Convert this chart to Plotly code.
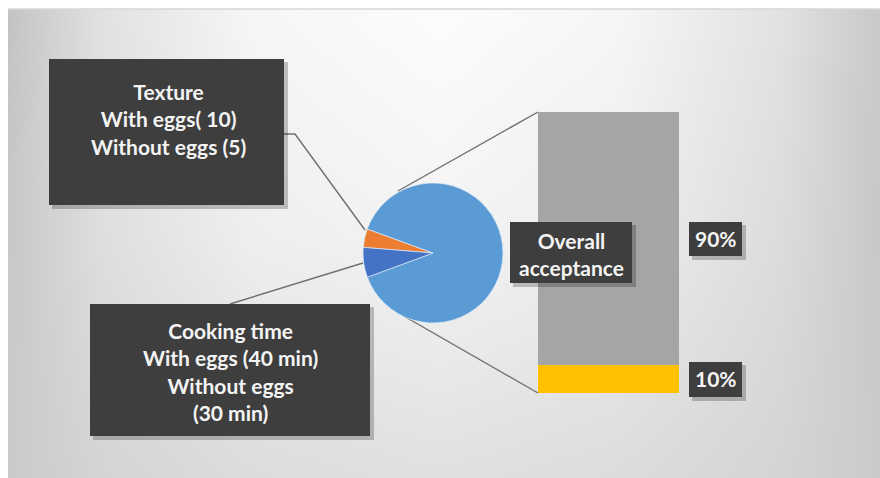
import plotly.graph_objects as go

# ---------------- data ----------------
pie_labels = ["Texture", "Overall acceptance", "Cooking time"]
pie_values = [4.3, 88.8, 6.9]
pie_colors = ["#ED7D31", "#5B9BD5", "#4472C4"]

bar_labels = ["10%", "90%"]
bar_values = [10, 90]
bar_colors = ["#FFC000", "#A5A5A5"]

texture_text = "Texture<br>With eggs( 10)<br>Without eggs (5)"
cooking_text = "Cooking time<br>With eggs (40 min)<br>Without eggs<br>(30 min)"
overall_text = "Overall<br>acceptance"

# background grey levels (grid for a smooth gradient)
bg_x = [0, 8, 100, 250, 440, 620, 780, 880]
bg_y = [0, 9, 240, 478]
bg_z = [
    [195, 195, 225, 246, 252, 246, 226, 200],
    [195, 195, 225, 246, 252, 246, 226, 200],
    [200, 200, 222, 238, 243, 237, 220, 200],
    [202, 202, 212, 220, 224, 220, 212, 202],
]

W, H = 880, 478


def px(x):
    return x / W


def py(y):
    return 1 - y / H


fig = go.Figure()

# background gradient
fig.add_trace(go.Heatmap(
    x=bg_x, y=bg_y, z=bg_z, zsmooth="best", zmin=0, zmax=255,
    colorscale=[[0, "rgb(0,0,0)"], [1, "rgb(255,255,255)"]],
    showscale=False, hoverinfo="skip", xaxis="x", yaxis="y",
))

# leader / connector lines (pixel coordinates of the overlay axis)
line_style = dict(color="#6f6f6f", width=1.4)
leaders = [
    ([284, 295, 365], [134, 134, 230]),
    ([230, 363], [304, 263]),
    ([398, 538], [191, 112]),
    ([402, 538], [315, 393]),
]
for lx, ly in leaders:
    fig.add_trace(go.Scatter(x=lx, y=ly, mode="lines", line=line_style,
                             hoverinfo="skip", showlegend=False,
                             xaxis="x", yaxis="y"))

# stacked bar (bar-of-pie)
for lab, val, col in zip(bar_labels, bar_values, bar_colors):
    fig.add_trace(go.Bar(x=[0], y=[val], name=lab, marker=dict(color=col, line=dict(width=0)),
                         width=1, hoverinfo="skip", showlegend=False,
                         xaxis="x2", yaxis="y2"))

# pie
fig.add_trace(go.Pie(
    labels=pie_labels, values=pie_values, sort=False, direction="clockwise",
    rotation=-85.4, textinfo="none", hoverinfo="skip", showlegend=False,
    marker=dict(colors=pie_colors, line=dict(color="rgba(220,235,250,0.7)", width=1)),
    domain=dict(x=[px(363), px(503)], y=[py(323), py(183)]),
))

shapes = []
# white outer strips + thin frame line
shapes.append(dict(type="rect", xref="paper", yref="paper", x0=0, x1=1, y0=py(9), y1=1,
                   fillcolor="white", line=dict(width=0), layer="above"))
shapes.append(dict(type="rect", xref="paper", yref="paper", x0=0, x1=px(8), y0=0, y1=1,
                   fillcolor="white", line=dict(width=0), layer="above"))
shapes.append(dict(type="line", xref="paper", yref="paper", x0=px(8), x1=1, y0=py(9), y1=py(9),
                   line=dict(color="#d6d6d6", width=1.5), layer="above"))

boxes = [
    (49, 59, 284, 205),
    (90, 304, 370, 436),
    (510, 222, 632, 283),
    (689, 222, 742, 256),
    (689, 362, 742, 397),
]
for x0, y0, x1, y1 in boxes:
    shapes.append(dict(type="rect", xref="paper", yref="paper",
                       x0=px(x0 + 3), x1=px(x1 + 4), y0=py(y1 + 4), y1=py(y0 + 3),
                       fillcolor="rgba(0,0,0,0.22)", line=dict(width=0), layer="above"))
    shapes.append(dict(type="rect", xref="paper", yref="paper",
                       x0=px(x0), x1=px(x1), y0=py(y1), y1=py(y0),
                       fillcolor="#3e3e3e", line=dict(width=0), layer="above"))

font = dict(family="Lato", size=21, color="#f4f4f4", weight="bold")
annotations = [
    dict(text=texture_text, x=px(168), y=py(119), xref="paper", yref="paper",
         xanchor="center", yanchor="middle", showarrow=False, font=font),
    dict(text=cooking_text, x=px(230), y=py(371), xref="paper", yref="paper",
         xanchor="center", yanchor="middle", showarrow=False, font=font),
    dict(text=overall_text, x=px(571), y=py(254), xref="paper", yref="paper",
         xanchor="center", yanchor="middle", showarrow=False, font=font),
]
# percentage labels positioned at segment midpoints of the bar
cum = 0
for lab, val in zip(bar_labels, bar_values):
    annotations.append(dict(text=lab, x=px(716), y=cum + val / 2, xref="paper", yref="y2",
                            xanchor="center", yanchor="middle", showarrow=False, font=font))
    cum += val

hidden = dict(visible=False, showgrid=False, zeroline=False, fixedrange=True)
fig.update_layout(
    width=W, height=H, margin=dict(l=0, r=0, t=0, b=0),
    paper_bgcolor="white", plot_bgcolor="rgba(0,0,0,0)",
    barmode="stack", bargap=0,
    xaxis=dict(range=[0, W], domain=[0, 1], **hidden),
    yaxis=dict(range=[H, 0], domain=[0, 1], **hidden),
    xaxis2=dict(range=[-0.5, 0.5], domain=[px(538), px(679)], anchor="y2", **hidden),
    yaxis2=dict(range=[0, 100], domain=[py(393), py(112)], anchor="x2", **hidden),
    shapes=shapes, annotations=annotations,
)

fig.write_html("out.html")
